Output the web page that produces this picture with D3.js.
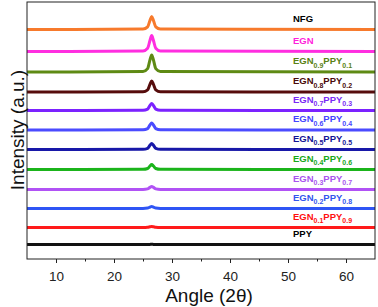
<!DOCTYPE html>
<html>
<head>
<meta charset="utf-8">
<script src="https://cdn.jsdelivr.net/npm/d3@7"></script>
<style>
  html, body { margin: 0; padding: 0; background: #fff; }
  svg { display: block; font-family: Arial, "Liberation Sans", sans-serif; }
</style>
</head>
<body>
<svg id="chart" width="378" height="307"></svg>
<script>
// ---- Data ----
const angles = [5, 25.0, 25.8, 26.2, 26.5, 26.8, 27.2, 28.0, 65];

const names = ["NFG", "EGN", "EGN0.9PPY0.1", "EGN0.8PPY0.2", "EGN0.7PPY0.3", "EGN0.6PPY0.4",
               "EGN0.5PPY0.5", "EGN0.4PPY0.6", "EGN0.3PPY0.7", "EGN0.2PPY0.8", "EGN0.1PPY0.9", "PPY"];

// stacking offsets (a.u.)
const offsets = [229.5, 207.5, 187, 167, 148.5, 129, 109.5, 89.5, 69.5, 50.5, 31.5, 14.5];

// intensities at the shared angles (a.u., before offset)
const sNFG   = [0, 0.4, 2.6, 9.0, 13, 9.0, 2.6, 0.4, 0];
const sEGN   = [0, 0.5, 3.2, 11.0, 16, 11.0, 3.2, 0.5, 0];
const sE91   = [0, 0.5, 3.4, 12.0, 17, 12.0, 3.4, 0.5, 0];
const sE82   = [0, 0.3, 2.2, 7.7, 11, 7.7, 2.2, 0.3, 0];
const sE73   = [0, 0.2, 1.4, 5.0, 7, 5.0, 1.4, 0.2, 0];
const sE64   = [0, 0.2, 1.4, 5.0, 7, 5.0, 1.4, 0.2, 0];
const sE55   = [0, 0.2, 1.2, 4.2, 6, 4.2, 1.2, 0.2, 0];
const sE46   = [0, 0.2, 1.0, 3.5, 5, 3.5, 1.0, 0.2, 0];
const sE37   = [0, 0.1, 0.6, 2.1, 3, 2.1, 0.6, 0.1, 0];
const sE28   = [0, 0.1, 0.4, 1.4, 2, 1.4, 0.4, 0.1, 0];
const sE19   = [0, 0.0, 0.2, 0.7, 1, 0.7, 0.2, 0.0, 0];
const sPPY   = [0, 0.0, 0.0, 0.1, 0.2, 0.1, 0.0, 0.0, 0];
const seriesValues = [sNFG, sEGN, sE91, sE82, sE73, sE64, sE55, sE46, sE37, sE28, sE19, sPPY];

const lineColors  = ["#f77a2c", "#ff2ee0", "#5e8a14", "#560c0c", "#7b22ff", "#4b4bff",
                     "#1818a8", "#1bb41b", "#b152f5", "#2f55f5", "#ff1a1a", "#111111"];
const labelColors = ["#000000", "#ff1fdc", "#5a8214", "#4a0a0a", "#7a2af5", "#4545ff",
                     "#141496", "#18a818", "#a855ee", "#3355ee", "#ff1010", "#000000"];

const xTicks = [10, 20, 30, 40, 50, 60];
const xMinorTicks = [15, 25, 35, 45, 55];
const xDomain = [5, 65];
const yDomain = [0, 257];

// ---- Drawing ----
const svg = d3.select("#chart");
const L = 27, R = 375, T = 2, B = 259;

const x = d3.scaleLinear().domain(xDomain).range([L, R]);
const y = d3.scaleLinear().domain(yDomain).range([B, T]);

const line = d3.line()
  .x(d => x(d[0]))
  .y(d => y(d[1]))
  .curve(d3.curveMonotoneX);

const g = svg.append("g");
seriesValues.forEach((vals, i) => {
  const pts = angles.map((a, j) => [a, vals[j] + offsets[i]]);
  g.append("path")
    .datum(pts)
    .attr("fill", "none")
    .attr("stroke", lineColors[i])
    .attr("stroke-width", 3)
    .attr("stroke-linejoin", "round")
    .attr("d", line);
});

// labels
const lab = svg.append("g").attr("font-weight", "bold").attr("font-size", 9.5);
names.forEach((nm, i) => {
  const t = lab.append("text")
    .attr("x", 293)
    .attr("y", y(offsets[i]) - 8)
    .attr("fill", labelColors[i]);
  const m = nm.match(/^EGN([\d.]+)PPY([\d.]+)$/);
  if (m) {
    t.append("tspan").text("EGN");
    t.append("tspan").attr("dy", 3.5).attr("font-size", 7).text(m[1]);
    t.append("tspan").attr("dy", -3.5).text("PPY");
    t.append("tspan").attr("dy", 3.5).attr("font-size", 7).text(m[2]);
  } else {
    t.text(nm);
  }
});

// frame
svg.append("rect")
  .attr("x", L).attr("y", T).attr("width", R - L).attr("height", B - T)
  .attr("fill", "none").attr("stroke", "#222").attr("stroke-width", 1);

// x axis
const ax = svg.append("g").attr("transform", `translate(0,${B})`)
  .call(d3.axisBottom(x).tickValues(xTicks).tickSize(4).tickPadding(8).tickFormat(d3.format("d")));
ax.select(".domain").remove();
ax.selectAll("text").attr("font-size", 13.5).attr("fill", "#222").attr("font-family", "Arial, 'Liberation Sans', sans-serif");
ax.selectAll("line").attr("stroke", "#222");

const axm = svg.append("g").attr("transform", `translate(0,${B})`)
  .call(d3.axisBottom(x).tickValues(xMinorTicks).tickSize(2.5).tickFormat(""));
axm.select(".domain").remove();
axm.selectAll("line").attr("stroke", "#222");

// axis titles
svg.append("text")
  .attr("x", 209).attr("y", 302)
  .attr("text-anchor", "middle")
  .attr("font-size", 19)
  .attr("fill", "#111")
  .text("Angle (2θ)");

svg.append("text")
  .attr("transform", "translate(24,130) rotate(-90)")
  .attr("text-anchor", "middle")
  .attr("font-size", 19)
  .attr("fill", "#111")
  .text("Intensity (a.u.)");
</script>
</body>
</html>
